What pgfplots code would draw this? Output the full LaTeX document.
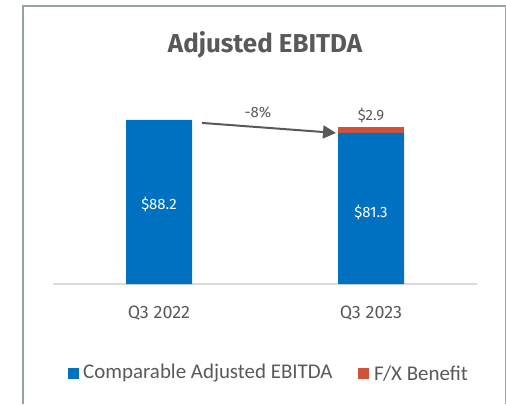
\documentclass[border=0pt]{standalone}
\usepackage{pgfplots}
\pgfplotsset{compat=1.18}
\usepackage{fontspec}
\setmainfont{Fira Sans}
\newfontfamily\legfont{Carlito}
\usetikzlibrary{arrows.meta}
\definecolor{barblue}{HTML}{0070C0}
\definecolor{fxred}{HTML}{CF5339}
\definecolor{txtgray}{HTML}{595959}
\definecolor{framegray}{HTML}{93A69C}
\begin{document}
\begin{tikzpicture}[x=1bp,y=1bp]
  \useasboundingbox (0,0) rectangle (506,404);
  % frame
  \draw[framegray, line width=2bp] (23,0) -- (23,398) -- (506,398);
  \draw[gray!70, line width=0.8bp] (505,0) -- (505,398);
  % title
  \node[txtgray, font=\fontsize{26}{30}\selectfont\bfseries] at (265,359) {Adjusted EBITDA};
  \begin{axis}[
    at={(53bp,120bp)}, anchor=south west,
    scale only axis,
    width=424bp, height=186bp,
    xmin=-0.5, xmax=1.5,
    ymin=0, ymax=100,
    ybar stacked,
    bar width=66bp,
    axis y line=none,
    axis x line*=bottom,
    x axis line style={draw=black!15, line width=1.5bp},
    xtick={0,1},
    xticklabels={Q3 2022, Q3 2023},
    xtick style={draw=none},
    ticklabel style={font=\fontsize{18}{21}\selectfont, text=txtgray},
    xticklabel style={yshift=-18bp},
    clip=false,
  ]
    \addplot[fill=barblue, draw=none] coordinates {(0,88.2) (1,81.3)};
    \addplot[fill=fxred, draw=none] coordinates {(0,0) (1,2.9)};
    \coordinate (lA) at (axis cs:0,43.0);
    \coordinate (lB) at (axis cs:1,38.5);
    \coordinate (lC) at (axis cs:1,84.6);
    \coordinate (lD) at (axis cs:0.467,92.2);
    \coordinate (aS) at (axis cs:0.203,86.6);
    \coordinate (aE) at (axis cs:0.835,81.2);
  \end{axis}
  \node[white, font=\fontsize{15}{18}\selectfont] at (lA) {\$88.2};
  \node[white, font=\fontsize{15}{18}\selectfont] at (lB) {\$81.3};
  \node[txtgray, font=\fontsize{15}{18}\selectfont, anchor=south] at (lC) {\$2.9};
  \node[txtgray, font=\fontsize{15}{18}\selectfont] at (lD) {-8\%};
  \draw[txtgray, line width=2bp, -{Triangle[length=13bp,width=13bp]}] (aS) -- (aE);
  % legend
  \fill[barblue] (68,25) rectangle (79,36);
  \node[anchor=west, txtgray, font=\legfont\fontsize{21}{25}\selectfont, inner sep=0pt] at (83,30.5) {Comparable Adjusted EBITDA};
  \fill[fxred] (358,25) rectangle (369,36);
  \node[anchor=west, txtgray, font=\legfont\fontsize{21}{25}\selectfont, inner sep=0pt] at (374,30.5) {F/X Benefit};
\end{tikzpicture}
\end{document}
